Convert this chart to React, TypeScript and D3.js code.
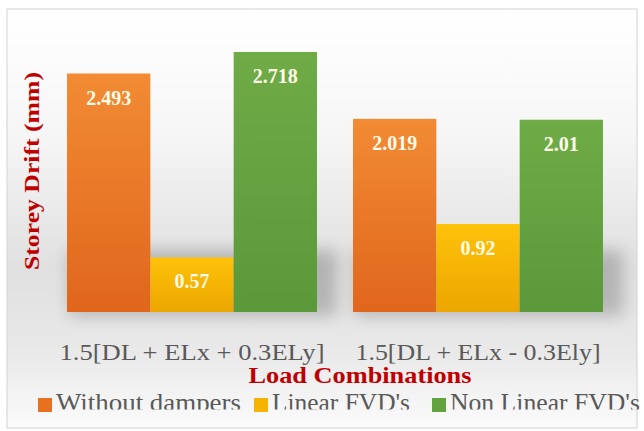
import React from "react";
import * as d3 from "d3";

const categories = ["1.5[DL + ELx + 0.3ELy]", "1.5[DL + ELx - 0.3Ely]"];
const seriesNames = ["Without dampers", "Linear FVD's", "Non Linear FVD's"];
const withoutDampers = [2.493, 2.019];
const linearFVD = [0.57, 0.92];
const nonLinearFVD = [2.718, 2.01];
const valueLabels = [["2.493", "2.019"], ["0.57", "0.92"], ["2.718", "2.01"]];
const seriesValues = [withoutDampers, linearFVD, nonLinearFVD];
const yDomain = [0, 3];

const W = 644;
const H = 431;

const gradTop = ["#f28b34", "#ffc20a", "#6fac47"];
const gradBot = ["#e0661c", "#eca600", "#5a983a"];
const legendColors = ["#e8711f", "#f4b400", "#62a23f"];

export default function App() {
  const x0 = d3
    .scaleBand<string>()
    .domain(categories)
    .range([49, 621])
    .paddingInner(0.126)
    .paddingOuter(0.063);
  const x1 = d3
    .scaleBand<number>()
    .domain([0, 1, 2])
    .range([0, x0.bandwidth()])
    .padding(0);
  const y = d3.scaleLinear().domain(yDomain).range([312, 25]);

  const catLabelLen = [265, 245];
  const legendX = [38, 254, 432];
  const legendLen = [185, 138, 190];

  return (
    <svg
      width={W}
      height={H}
      style={{ position: "absolute", left: 0, top: 0, fontFamily: "'Liberation Serif', serif" }}
    >
      <defs>
        <linearGradient id="bg" x1="0" y1="0" x2="0" y2="1">
          <stop offset="0" stopColor="#ffffff" />
          <stop offset="0.3" stopColor="#f6f6f6" />
          <stop offset="0.62" stopColor="#e0e0e0" />
          <stop offset="0.82" stopColor="#e9e9e9" />
          <stop offset="1" stopColor="#fbfbfb" />
        </linearGradient>
        {gradTop.map((c, i) => (
          <linearGradient key={i} id={`g${i}`} x1="0" y1="0" x2="0" y2="1">
            <stop offset="0" stopColor={c} />
            <stop offset="1" stopColor={gradBot[i]} />
          </linearGradient>
        ))}
        <filter id="blur" x="-20%" y="-50%" width="140%" height="200%">
          <feGaussianBlur stdDeviation="8" />
        </filter>
        <clipPath id="legClip">
          <rect x={0} y={380} width={W} height={29.5} />
        </clipPath>
      </defs>
      <rect x={0} y={0} width={W} height={H} fill="#ffffff" />
      <rect x={7} y={9} width={630} height={419} fill="url(#bg)" stroke="#d9d9d9" strokeWidth={1.2} />

      {/* shadows */}
      {categories.map((c) => (
        <rect
          key={"sh" + c}
          x={(x0(c) as number) + 2}
          y={y(0.65)}
          width={x0.bandwidth() + 18}
          height={y(0) - y(0.65) + 4}
          fill="#000"
          opacity={0.2}
          filter="url(#blur)"
        />
      ))}

      {/* bars */}
      {categories.map((c, ci) => (
        <g key={c} transform={`translate(${x0(c)},0)`}>
          {seriesValues.map((vals, si) => (
            <rect
              key={si}
              x={x1(si)}
              y={y(vals[ci])}
              width={x1.bandwidth()}
              height={y(0) - y(vals[ci])}
              fill={`url(#g${si})`}
            />
          ))}
          {seriesValues.map((vals, si) => (
            <text
              key={"t" + si}
              x={(x1(si) as number) + x1.bandwidth() / 2}
              y={y(vals[ci]) + 31}
              textAnchor="middle"
              fontSize={20}
              fontWeight="bold"
              fill="#fffbe8"
            >
              {valueLabels[si][ci]}
            </text>
          ))}
        </g>
      ))}

      {/* category labels */}
      {categories.map((c, ci) => (
        <text
          key={"cl" + c}
          x={(x0(c) as number) + x0.bandwidth() / 2}
          y={360}
          textAnchor="middle"
          fontSize={23}
          fill="#595959"
          textLength={catLabelLen[ci]}
          lengthAdjust="spacingAndGlyphs"
        >
          {c}
        </text>
      ))}

      {/* axis titles */}
      <text
        x={360}
        y={383}
        textAnchor="middle"
        fontSize={23}
        fontWeight="bold"
        fill="#c00000"
        textLength={223}
        lengthAdjust="spacingAndGlyphs"
      >
        Load Combinations
      </text>
      <text
        transform="translate(39,171) rotate(-90)"
        textAnchor="middle"
        fontSize={22}
        fontWeight="bold"
        fill="#c00000"
        textLength={198}
        lengthAdjust="spacingAndGlyphs"
      >
        Storey Drift (mm)
      </text>

      {/* legend */}
      {seriesNames.map((n, i) => (
        <g key={n}>
          <rect x={legendX[i]} y={398} width={14} height={14} fill={legendColors[i]} />
          <text
            x={legendX[i] + 18}
            y={411}
            fontSize={25}
            fill="#595959"
            textLength={legendLen[i]}
            lengthAdjust="spacingAndGlyphs"
            clipPath="url(#legClip)"
          >
            {n}
          </text>
        </g>
      ))}
    </svg>
  );
}
